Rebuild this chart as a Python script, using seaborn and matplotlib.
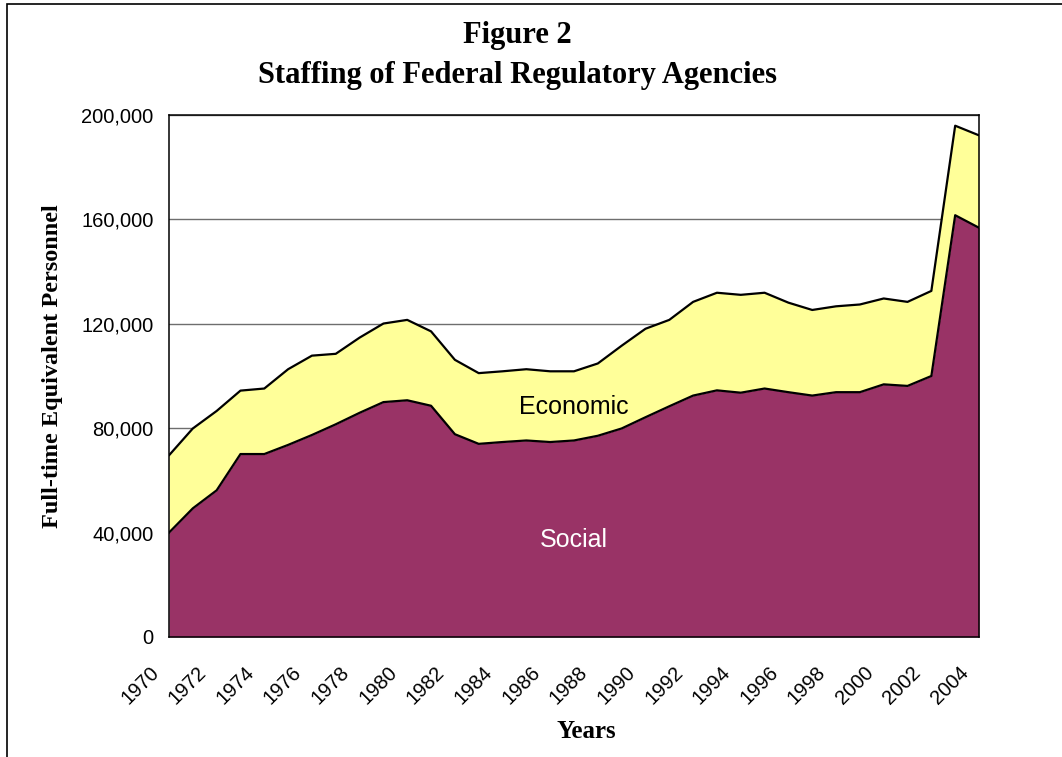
import matplotlib
matplotlib.use("Agg")
import matplotlib.pyplot as plt
from matplotlib.patches import Rectangle
from matplotlib.ticker import FuncFormatter
from matplotlib.transforms import ScaledTranslation
import numpy as np
import seaborn as sns

# Staffing (full-time equivalent personnel)
years = list(range(1970, 2005))
social = [40000, 49300, 56200, 70100, 70100, 73600, 77400, 81500, 85900, 90000,
          90700, 88600, 77700, 74000, 74700, 75300, 74700, 75300, 77100, 79900,
          84200, 88400, 92500, 94500, 93600, 95200, 93800, 92500, 93800, 93800,
          96800, 96200, 100000, 161600, 156800]
economic = [29600, 30600, 30400, 24300, 25100, 29000, 30400, 27000, 28800, 30100,
            30800, 28500, 28500, 27100, 27100, 27300, 27100, 26500, 27700, 31700,
            33900, 33100, 35900, 37400, 37500, 36700, 34300, 32800, 32900, 33600,
            32900, 32200, 32600, 34300, 35400]
y_ticks = [0, 40000, 80000, 120000, 160000, 200000]

SOCIAL_COLOR = "#993366"
ECON_COLOR = "#FFFF99"

sns.set_style("white")
plt.rcParams["font.family"] = ["Liberation Sans", "DejaVu Sans"]
plt.rcParams["text.color"] = "black"

fig = plt.figure(figsize=(10.62, 7.57), dpi=100)
ax = fig.add_axes([169 / 1062, 1 - 637 / 757, 810 / 1062, 522 / 757])

total = np.array(social) + np.array(economic)

# gridlines sit behind the areas
ax.set_axisbelow(True)
ax.yaxis.grid(True, color="#6e6e6e", linewidth=1.0)

ax.fill_between(years, 0, social, color=SOCIAL_COLOR, linewidth=0, zorder=2)
ax.fill_between(years, social, total, color=ECON_COLOR, linewidth=0, zorder=2)
sns.lineplot(x=years, y=social, color="black", linewidth=1.6, ax=ax, zorder=3)
sns.lineplot(x=years, y=total, color="black", linewidth=1.6, ax=ax, zorder=3)

ax.set_xlim(years[0], years[-1])
ax.set_ylim(0, 200000)
ax.set_yticks(y_ticks)
ax.yaxis.set_major_formatter(FuncFormatter(lambda v, p: f"{int(v):,}"))
ax.set_xticks(years)
ax.set_xticklabels([str(y) if y % 2 == 0 else "" for y in years],
                   rotation=45, ha="right", rotation_mode="anchor")
ax.tick_params(axis="both", which="major", direction="out", length=5, width=1,
               color="black", labelsize=14.5, labelcolor="black")
ax.tick_params(axis="y", pad=6)
ax.tick_params(axis="x", pad=5)

# Excel puts the slanted year labels a bit left of / below their ticks
shift = ScaledTranslation(-0.20, -0.12, fig.dpi_scale_trans)
for lbl in ax.get_xticklabels():
    lbl.set_transform(lbl.get_transform() + shift)

for s in ax.spines.values():
    s.set_visible(True)
    s.set_color("black")
    s.set_linewidth(1.1)
    s.set_zorder(4)

ax.text(1987, 88000, "Economic", fontsize=18, color="black",
        ha="center", va="center", zorder=5)
ax.text(1987, 37000, "Social", fontsize=18, color="white",
        ha="center", va="center", zorder=5)

serif = ["Liberation Serif", "DejaVu Serif"]
fig.text(517 / 1062, 1 - 35 / 757, "Figure 2", family=serif, fontweight="bold",
         fontsize=22, ha="center", va="center")
fig.text(517 / 1062, 1 - 76 / 757, "Staffing of Federal Regulatory Agencies",
         family=serif, fontweight="bold", fontsize=22, ha="center", va="center")
fig.text(586 / 1062, 1 - 731 / 757, "Years", family=serif, fontweight="bold",
         fontsize=18, ha="center", va="center")
fig.text(53 / 1062, 1 - 366 / 757, "Full-time Equivalent Personnel", family=serif,
         fontweight="bold", fontsize=17.5, rotation=90, ha="center", va="center")

# outer frame of the chart object
fig.patches.append(Rectangle((7 / 1062, -0.05), 1.2, 1 - 4 / 757 + 0.05,
                             transform=fig.transFigure, fill=False,
                             edgecolor="black", linewidth=1.2))

fig.savefig("out.png", dpi=100)
